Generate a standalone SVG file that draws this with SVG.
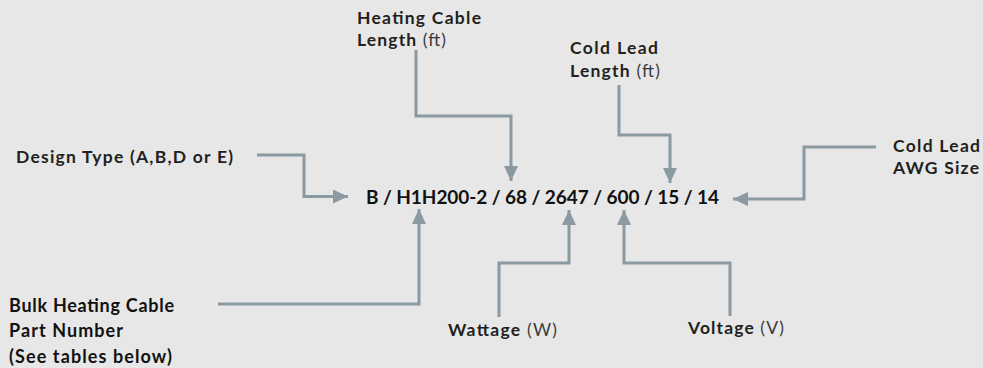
<svg xmlns="http://www.w3.org/2000/svg" width="983" height="368" viewBox="0 0 983 368">
<defs>
<marker id="ah" markerUnits="userSpaceOnUse" markerWidth="16" markerHeight="14" refX="15" refY="7" orient="auto">
<path d="M0,0 L15,7 L0,14 z" fill="#8b9aa2"/>
</marker>
<style>
.bg{fill:#e7e7e7}
.c{fill:none;stroke:#8b9aa2;stroke-width:3;marker-end:url(#ah)}
.lb{font-family:Lato,"Liberation Sans",sans-serif;font-weight:bold;font-size:17.5px;fill:#231f20}
.rg{font-weight:normal;fill:#3a3a3a}
.cb{font-family:Lato,"Liberation Sans",sans-serif;font-weight:bold;font-size:18px;fill:#111}
.main{font-family:Lato,"Liberation Sans",sans-serif;font-weight:bold;font-size:19px;fill:#111}
</style>
</defs>
<rect class="bg" x="0" y="0" width="983" height="368"/>
<g id="connectors">
<path class="c" d="M257,155 H304 V196.5 H348"/>
<path class="c" d="M416,50 V116 H511 V181"/>
<path class="c" d="M619,85 V135 H670 V183"/>
<path class="c" d="M876,147 H804 V199 H733"/>
<path class="c" d="M218,304 H419 V209"/>
<path class="c" d="M499,317 V263 H569 V210"/>
<path class="c" d="M730,316 V263 H624 V210"/>
</g>
<g id="code">
<text class="main" x="366" y="204" textLength="353" lengthAdjust="spacing">B / H1H200-2 / 68 / 2647 / 600 / 15 / 14</text>
</g>
<g id="heating-cable-length">
<text class="lb" x="357" y="24" textLength="124" lengthAdjust="spacing">Heating Cable</text>
<text class="lb" x="357" y="45.5" textLength="89" lengthAdjust="spacing">Length <tspan class="rg">(ft)</tspan></text>
</g>
<g id="design-type">
<text class="lb" x="16" y="163" textLength="217" lengthAdjust="spacing">Design Type (A,B,D or E)</text>
</g>
<g id="cold-lead-length">
<text class="lb" x="570" y="54" textLength="88" lengthAdjust="spacing">Cold Lead</text>
<text class="lb" x="570" y="77" textLength="90" lengthAdjust="spacing">Length <tspan class="rg">(ft)</tspan></text>
</g>
<g id="cold-lead-awg">
<text class="lb" x="893" y="152" textLength="87" lengthAdjust="spacing">Cold Lead</text>
<text class="lb" x="893" y="173.5" textLength="86" lengthAdjust="spacing">AWG Size</text>
</g>
<g id="bulk-part-number">
<text class="cb" x="9" y="312" textLength="165" lengthAdjust="spacing">Bulk Heating Cable</text>
<text class="cb" x="9" y="337" textLength="114" lengthAdjust="spacing">Part Number</text>
<text class="cb" x="9" y="363" textLength="163" lengthAdjust="spacing">(See tables below)</text>
</g>
<g id="wattage">
<text class="lb" x="448" y="336" textLength="109" lengthAdjust="spacing">Wattage <tspan class="rg">(W)</tspan></text>
</g>
<g id="voltage">
<text class="lb" x="688" y="334" textLength="96" lengthAdjust="spacing">Voltage <tspan class="rg">(V)</tspan></text>
</g>
</svg>
